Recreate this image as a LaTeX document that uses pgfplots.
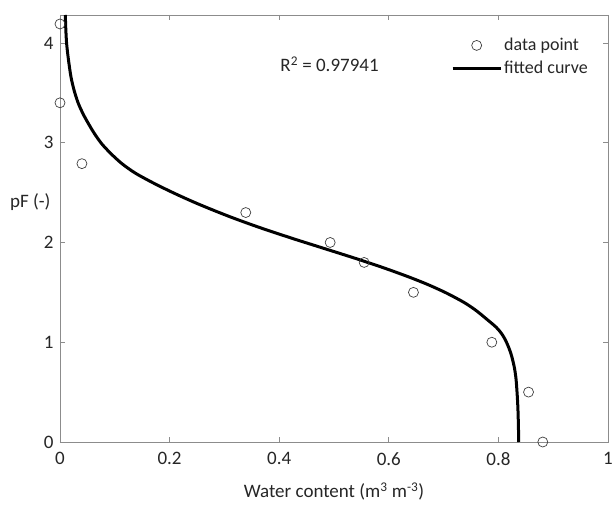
\documentclass[border=0pt]{standalone}
\usepackage{fontspec}
\setmainfont{Carlito}
\usepackage{pgfplots}
\pgfplotsset{compat=1.18}
\usetikzlibrary{calc}
\pgfplotsset{
  mymarklegend/.style={legend image code/.code={\draw[##1] plot coordinates {(24pt,0pt)};}},
  mylinelegend/.style={legend image code/.code={\draw[##1] (0pt,0pt) -- (48pt,0pt);}},
}
\begin{document}
\begin{tikzpicture}[x=1pt,y=1pt]
\begin{axis}[
  scale only axis,
  width=548pt, height=427pt,
  xmin=0, xmax=1, ymin=0, ymax=4.28,
  xtick={0,0.2,0.4,0.6,0.8,1},
  ytick={0,1,2,3,4},
  xticklabels={0,0.2,0.4,0.6,0.8,1},
  yticklabels={0,1,2,3,4},
  tick align=inside,
  major tick length=5pt,
  axis line style={black!45, line width=0.8pt},
  every tick/.style={black!45, line width=0.8pt},
  tick label style={font=\fontsize{19}{22}\selectfont, text=black!85},
  xticklabel style={yshift=-7pt},
  yticklabel style={xshift=-3pt},
  xlabel={Water content (m\textsuperscript{3} m\textsuperscript{-3})},
  every axis x label/.style={at={(axis description cs:0.5,0)}, anchor=south, yshift=-62pt,
    font=\fontsize{19}{22}\selectfont, text=black!85},
  ylabel={pF (-)},
  every axis y label/.style={at={(axis description cs:0,0.563)}, anchor=east, xshift=-6pt,
    font=\fontsize{19}{22}\selectfont, text=black!85},
  legend style={draw=none, fill=none, at={(rel axis cs:0.708,0.955)}, anchor=north west,
    font=\fontsize{18}{21}\selectfont, text=black!85, row sep=5pt,
    nodes={inner sep=2pt}},
  legend cell align=left,
]
\addplot[only marks, mark=o, mark size=5pt, draw=black!75, line width=0.7pt, mymarklegend]
  coordinates {
  (0.000,4.19) (0.000,3.40) (0.040,2.79) (0.339,2.30) (0.493,2.00)
  (0.555,1.80) (0.645,1.50) (0.788,1.00) (0.855,0.50) (0.881,0.00)
  };
\addlegendentry{data point}
\addplot[black, line width=3pt, smooth, tension=0.5, line join=round, mylinelegend]
  coordinates {
  (0.0097,4.28) (0.0105,4.15) (0.012,4.00) (0.015,3.85) (0.020,3.66)
  (0.026,3.52) (0.033,3.40) (0.042,3.29) (0.052,3.19) (0.063,3.09)
  (0.076,2.99) (0.093,2.89) (0.113,2.79) (0.136,2.70) (0.162,2.62)
  (0.190,2.542) (0.220,2.464) (0.250,2.391) (0.280,2.323) (0.310,2.258)
  (0.340,2.197) (0.370,2.139) (0.400,2.084) (0.430,2.030) (0.460,1.978)
  (0.490,1.926) (0.520,1.874) (0.550,1.821) (0.580,1.766) (0.610,1.708)
  (0.640,1.647) (0.670,1.581) (0.700,1.507) (0.720,1.451) (0.740,1.390)
  (0.760,1.315) (0.780,1.225) (0.796,1.150) (0.806,1.085) (0.813,1.020)
  (0.819,0.945) (0.824,0.865) (0.829,0.750) (0.832,0.640) (0.834,0.500)
  (0.8355,0.350) (0.8365,0.170) (0.837,0.000)
  };
\addlegendentry{fitted curve}
\node[anchor=base west, font=\fontsize{19}{22}\selectfont, text=black!85, inner sep=0pt]
  at (axis cs:0.402,3.71) {R\textsuperscript{2} = 0.97941};
\end{axis}
\pgfresetboundingbox
\useasboundingbox ($(current axis.south west)+(-60pt,-62pt)$) rectangle ($(current axis.north east)+(8pt,15pt)$);
\end{tikzpicture}
\end{document}
